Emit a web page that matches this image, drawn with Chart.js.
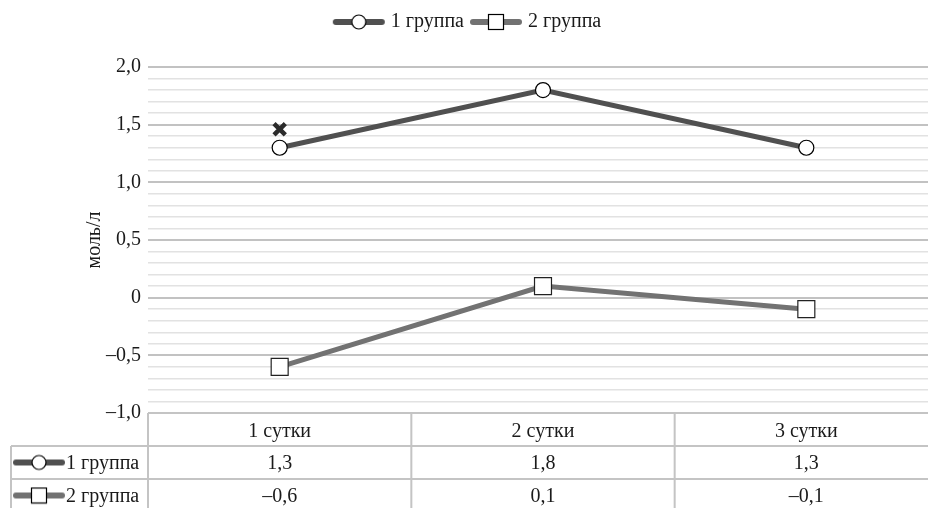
<!DOCTYPE html>
<html><head><meta charset="utf-8">
<script src="https://cdn.jsdelivr.net/npm/chart.js@4/dist/chart.umd.min.js"></script>
<style>html,body{margin:0;padding:0;background:#fff;overflow:hidden;width:928px;height:508px}canvas{display:block}</style>
</head><body><canvas id="c" width="938" height="508"></canvas>
<script>
const categories = ['1 сутки', '2 сутки', '3 сутки'];
const seriesNames = ['1 группа', '2 группа'];
const group1 = [1.3, 1.8, 1.3];
const group2 = [-0.6, 0.1, -0.1];
const significance = [1.46, null, null];
const yTickValues = [-1, -0.5, 0, 0.5, 1, 1.5, 2];
const yTickLabels = ['–1,0', '–0,5', '0', '0,5', '1,0', '1,5', '2,0'];
const yTitle = 'моль/л';

const FONT = '"Liberation Serif", "Times New Roman", serif';
const TXT = '#1a1a1a';
const C1 = '#505050', C2 = '#727272';

function fmt(v) { return (v < 0 ? '–' : '') + Math.abs(v).toFixed(1).replace('.', ','); }
function isMajor(v) { return Math.abs(v * 2 - Math.round(v * 2)) < 1e-6; }

function makeIcon(color, shape) {
  const cv = document.createElement('canvas'); cv.width = 54; cv.height = 18;
  const g = cv.getContext('2d');
  g.strokeStyle = color; g.lineWidth = 6; g.lineCap = 'round';
  g.beginPath(); g.moveTo(4, 9); g.lineTo(50, 9); g.stroke();
  g.fillStyle = '#fff'; g.strokeStyle = '#000'; g.lineWidth = 1.2;
  if (shape === 'circle') { g.beginPath(); g.arc(27, 9, 7, 0, Math.PI * 2); g.fill(); g.stroke(); }
  else { g.fillRect(19.5, 1.5, 15, 15); g.strokeRect(19.5, 1.5, 15, 15); }
  return cv;
}
const icons = [makeIcon(C1, 'circle'), makeIcon(C2, 'rect')];

const legendSpace = {
  id: 'legendSpace',
  beforeLayout(chart) {
    const lg = chart.legend;
    if (lg && !lg._patched) {
      const f = lg.fit.bind(lg);
      lg.fit = function () { f(); this.height = 65; };
      lg._patched = true;
    }
  }
};

const tablePlugin = {
  id: 'dataTable',
  afterDraw(chart) {
    const { ctx, chartArea: a, scales: { x } } = chart;
    const half = (x.getPixelForValue(1) - x.getPixelForValue(0)) / 2;
    const top = a.bottom, rowH = 33, H = chart.height, W = chart.width, legL = 11;
    ctx.save();
    ctx.strokeStyle = '#c4c4c4'; ctx.lineWidth = 2;
    ctx.beginPath();
    ctx.moveTo(a.left, top); ctx.lineTo(W, top);
    ctx.moveTo(legL, top + rowH); ctx.lineTo(W, top + rowH);
    ctx.moveTo(legL, top + 2 * rowH); ctx.lineTo(W, top + 2 * rowH);
    ctx.moveTo(a.left, top); ctx.lineTo(a.left, H);
    ctx.moveTo(legL, top + rowH); ctx.lineTo(legL, H);
    for (let i = 1; i < categories.length; i++) {
      const xx = x.getPixelForValue(i) - half;
      ctx.moveTo(xx, top); ctx.lineTo(xx, H);
    }
    ctx.stroke();
    ctx.fillStyle = TXT; ctx.font = '20px ' + FONT; ctx.textAlign = 'center'; ctx.textBaseline = 'middle';
    categories.forEach((c, i) => ctx.fillText(c, x.getPixelForValue(i), top + rowH / 2 + 2));
    [group1, group2].forEach((arr, r) => {
      arr.forEach((v, i) => ctx.fillText(fmt(v), x.getPixelForValue(i), top + rowH * (r + 1.5) + 1));
    });
    ctx.textAlign = 'left';
    icons.forEach((ic, r) => {
      const cy = top + rowH * (r + 1.5);
      ctx.drawImage(ic, 12, cy - 9);
      ctx.fillText(seriesNames[r], 66, cy + 1);
    });
    ctx.restore();
  }
};

new Chart(document.getElementById('c'), {
  type: 'line',
  data: {
    labels: categories,
    datasets: [
      { label: seriesNames[0], data: group1, borderColor: C1, borderWidth: 5, tension: 0,
        pointStyle: 'circle', pointRadius: 7.5, pointHoverRadius: 7.5, pointBackgroundColor: '#fff',
        pointBorderColor: '#000', pointBorderWidth: 1.2 },
      { label: seriesNames[1], data: group2, borderColor: C2, borderWidth: 5, tension: 0,
        pointStyle: 'rect', pointRadius: 12, pointHoverRadius: 12, pointBackgroundColor: '#fff',
        pointBorderColor: '#222', pointBorderWidth: 1.2 },
      { label: 'p', data: significance, showLine: false, pointStyle: 'crossRot',
        pointRadius: 8, pointBorderWidth: 4.5, pointBorderColor: '#2b2b2b', borderColor: '#2b2b2b',
        pointBackgroundColor: '#2b2b2b' }
    ]
  },
  options: {
    responsive: false, animation: false, devicePixelRatio: 1,
    layout: { autoPadding: false, padding: { top: 2, bottom: 95, left: 0, right: 0 } },
    plugins: {
      tooltip: { enabled: false },
      legend: {
        position: 'top',
        labels: {
          usePointStyle: true, pointStyleWidth: 44, boxHeight: 18, padding: 10,
          font: { family: FONT, size: 20 }, color: TXT,
          generateLabels: () => seriesNames.map((n, i) => ({
            text: n, pointStyle: icons[i], fillStyle: '#fff', strokeStyle: '#000',
            lineWidth: 0, hidden: false, datasetIndex: i, fontColor: TXT }))
        }
      }
    },
    scales: {
      x: { display: false, offset: true },
      y: {
        min: -1, max: 2,
        afterFit(s) { s.width = 148; },
        border: { display: false },
        grid: {
          drawTicks: false,
          color: c => (Math.abs(c.tick.value + 1) < 1e-6 ? 'rgba(0,0,0,0)' : (isMajor(c.tick.value) ? '#c2c2c2' : '#e2e2e2')),
          lineWidth: c => (isMajor(c.tick.value) ? 2 : 1.5)
        },
        ticks: {
          stepSize: 0.1, autoSkip: false, padding: 7,
          font: { family: FONT, size: 20 }, color: TXT,
          callback: v => { const i = yTickValues.findIndex(t => Math.abs(t - v) < 1e-6); return i >= 0 ? yTickLabels[i] : ''; }
        },
        title: { display: true, text: yTitle, font: { family: FONT, size: 20 }, color: TXT, padding: { top: 83, bottom: 0 } }
      }
    }
  },
  plugins: [legendSpace, tablePlugin]
});
</script>
</body></html>
